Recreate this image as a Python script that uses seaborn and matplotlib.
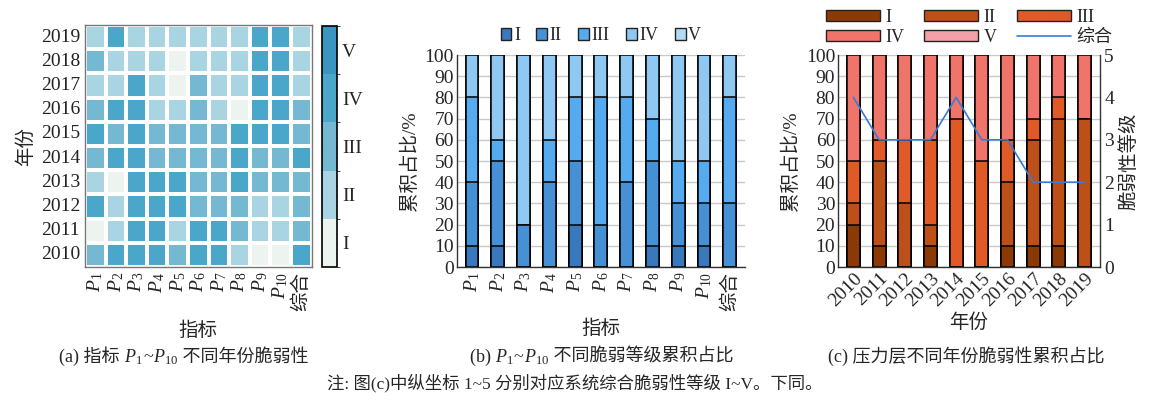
import numpy as np
import pandas as pd
import matplotlib
matplotlib.use('Agg')
import matplotlib.pyplot as plt
import seaborn as sns
from matplotlib.colors import ListedColormap, BoundaryNorm
from matplotlib.patches import Patch
from matplotlib.lines import Line2D

sns.set_style('white')
plt.rcParams['font.family'] = ['Liberation Serif', 'Noto Sans CJK SC']
plt.rcParams['mathtext.fontset'] = 'custom'
plt.rcParams['mathtext.rm'] = 'Liberation Serif'
plt.rcParams['mathtext.it'] = 'Liberation Serif:italic'

# ---- 数据 ----
years = [2010, 2011, 2012, 2013, 2014, 2015, 2016, 2017, 2018, 2019]
indicators = ['$P_{1}$', '$P_{2}$', '$P_{3}$', '$P_{4}$', '$P_{5}$', '$P_{6}$',
              '$P_{7}$', '$P_{8}$', '$P_{9}$', '$P_{10}$', '综合']
grades = ['I', 'II', 'III', 'IV', 'V']

# (a) 每年每个指标的脆弱性等级 (1~5)
grade_2010 = [3, 4, 4, 4, 3, 4, 4, 2, 1, 1, 4]
grade_2011 = [1, 2, 4, 4, 2, 4, 4, 3, 2, 2, 3]
grade_2012 = [4, 2, 4, 4, 4, 3, 3, 3, 2, 2, 3]
grade_2013 = [2, 1, 4, 4, 4, 3, 3, 4, 3, 3, 3]
grade_2014 = [3, 4, 4, 3, 3, 3, 3, 4, 3, 3, 4]
grade_2015 = [4, 3, 4, 3, 3, 3, 3, 4, 4, 4, 3]
grade_2016 = [3, 4, 4, 2, 2, 3, 2, 1, 4, 4, 3]
grade_2017 = [2, 2, 4, 2, 1, 3, 2, 2, 4, 4, 2]
grade_2018 = [3, 2, 2, 2, 1, 2, 2, 2, 4, 4, 2]
grade_2019 = [2, 4, 2, 2, 2, 2, 2, 2, 4, 4, 2]

# (b) 各指标不同等级占比 %
b_I   = [10, 10, 0, 0, 20, 0, 0, 10, 10, 10, 0]
b_II  = [30, 40, 20, 40, 30, 20, 40, 40, 20, 20, 30]
b_III = [40, 10, 0, 20, 30, 60, 40, 20, 20, 20, 50]
b_IV  = [20, 40, 80, 40, 20, 20, 20, 30, 50, 50, 20]
b_V   = [0, 0, 0, 0, 0, 0, 0, 0, 0, 0, 0]

# (c) 各年份不同等级占比 % 及综合等级
c_I   = [20, 10, 0, 10, 0, 0, 10, 10, 10, 0]
c_II  = [10, 40, 30, 10, 0, 0, 30, 50, 60, 70]
c_III = [20, 10, 30, 40, 70, 50, 20, 10, 10, 0]
c_IV  = [50, 40, 40, 40, 30, 50, 40, 30, 20, 30]
c_V   = [0, 0, 0, 0, 0, 0, 0, 0, 0, 0]
c_total = [4, 3, 3, 3, 4, 3, 3, 2, 2, 2]

heat_colors = ['#edf3ef', '#a8d5e1', '#74b9d1', '#4aa7ca', '#3a96c0']
blue_colors = ['#3a78bd', '#4691d6', '#55aaf0', '#8fc8f3', '#b0daf6']
red_colors = ['#8c3a05', '#bd5019', '#e05a28', '#ef756b', '#f3a0a6']

fig = plt.figure(figsize=(11.5, 4), dpi=100)

# ---- (a) 热力图 ----
ax1 = fig.add_axes([0.0739, 0.3325, 0.197, 0.605])
cax = fig.add_axes([0.280, 0.3325, 0.013, 0.6025])
grid = pd.DataFrame([grade_2019, grade_2018, grade_2017, grade_2016, grade_2015,
                     grade_2014, grade_2013, grade_2012, grade_2011, grade_2010],
                    index=years[::-1], columns=indicators)
cmap = ListedColormap(heat_colors)
norm = BoundaryNorm([0.5, 1.5, 2.5, 3.5, 4.5, 5.5], 5)
sns.heatmap(grid, ax=ax1, cbar_ax=cax, cmap=cmap, norm=norm,
            linewidths=1.5, linecolor='white', square=False)
for sp in ax1.spines.values():
    sp.set_visible(True)
    sp.set_color('#777777')
    sp.set_linewidth(1)
ax1.tick_params(axis='both', direction='in', length=4, width=1, labelsize=14,
                left=True, bottom=True, colors='#222222')
ax1.set_yticklabels([str(y) for y in years[::-1]], rotation=0, fontsize=14)
ax1.set_xticklabels(indicators, rotation=90, fontsize=14)
ax1.set_xlabel('指标', fontsize=14, labelpad=8)
ax1.set_ylabel('年份', fontsize=14, labelpad=4)
cb = ax1.collections[0].colorbar
cb.set_ticks([1, 2, 3, 4, 5])
cb.set_ticklabels(grades)
cb.ax.tick_params(labelsize=14, length=4, direction='in')
cb.outline.set_edgecolor('black')
cb.outline.set_linewidth(1.2)


def stacked(ax, cats, parts, colors):
    df = pd.DataFrame({'cat': cats})
    cum = np.cumsum(np.array(parts), axis=0)
    # 从上往下画累积柱
    for i in range(len(parts) - 1, -1, -1):
        df['v'] = cum[i]
        sns.barplot(data=df, x='cat', y='v', ax=ax, color=colors[i], width=0.5,
                    edgecolor='black', linewidth=1.1, saturation=1, order=cats)


# ---- (b) ----
ax2 = fig.add_axes([0.397, 0.3325, 0.251, 0.53])
stacked(ax2, indicators, [b_I, b_II, b_III, b_IV, b_V], blue_colors)
ax2.set_ylim(0, 100)
ax2.set_xlim(-0.6, len(indicators) - 0.4)
ax2.set_yticks(range(0, 101, 10))
ax2.yaxis.grid(True, color='#c8c8c8', linewidth=1)
ax2.set_axisbelow(True)
for s in ['top', 'right']:
    ax2.spines[s].set_visible(False)
for s in ['left', 'bottom']:
    ax2.spines[s].set_color('#333333')
    ax2.spines[s].set_linewidth(1)
ax2.tick_params(axis='y', labelsize=14, length=0, pad=2)
ax2.tick_params(axis='x', labelsize=14, length=0)
ax2.set_xticks(range(len(indicators)))
ax2.set_xticklabels(indicators, rotation=90)
ax2.set_xlabel('指标', fontsize=14, labelpad=6)
ax2.set_ylabel('累积占比/%', fontsize=14, labelpad=4)
h2 = [Patch(facecolor=c, edgecolor='#222222', linewidth=1) for c in blue_colors]
ax2.legend(h2, grades, ncol=5, loc='lower center', bbox_to_anchor=(0.5, 1.0),
           frameon=False, fontsize=13, handlelength=0.6, handleheight=0.6,
           handletextpad=0.15, columnspacing=0.9, borderaxespad=0.2)

# ---- (c) ----
ax3 = fig.add_axes([0.7287, 0.3325, 0.2278, 0.53])
ylabels = [str(y) for y in years]
stacked(ax3, ylabels, [c_I, c_II, c_III, c_IV, c_V], red_colors)
ax3.set_ylim(0, 100)
ax3.set_xlim(-0.6, len(years) - 0.4)
ax3.set_yticks(range(0, 101, 10))
ax3.yaxis.grid(True, color='#c8c8c8', linewidth=1)
ax3.set_axisbelow(True)
ax3.spines['top'].set_visible(False)
ax3.spines['right'].set_visible(False)
for s in ['left', 'bottom']:
    ax3.spines[s].set_color('#333333')
    ax3.spines[s].set_linewidth(1)
ax3.tick_params(axis='y', labelsize=14, length=0, pad=2)
ax3.tick_params(axis='x', labelsize=14, length=0, pad=2)
ax3.set_xticks(range(len(years)))
ax3.set_xticklabels(ylabels, rotation=45, ha='right', rotation_mode='anchor')
ax3.set_xlabel('年份', fontsize=14, labelpad=3)
ax3.set_ylabel('累积占比/%', fontsize=14, labelpad=4)

ax3r = ax3.twinx()
line_df = pd.DataFrame({'x': range(len(years)), 'y': c_total})
sns.lineplot(data=line_df, x='x', y='y', ax=ax3r, color='#3a7bd5', linewidth=1.2)
ax3r.set_ylim(0, 5)
ax3r.set_yticks(range(0, 6))
ax3r.tick_params(axis='y', labelsize=14, length=0, pad=3)
ax3r.set_ylabel('脆弱性等级', fontsize=14, labelpad=4)
ax3r.set_xlabel('')
for s in ['top', 'left', 'bottom']:
    ax3r.spines[s].set_visible(False)
ax3r.spines['right'].set_color('#333333')
ax3r.spines['right'].set_linewidth(1)
ax3r.set_xlim(-0.6, len(years) - 0.4)

h3 = [Patch(facecolor=c, edgecolor='#222222', linewidth=1) for c in red_colors]
h3.append(Line2D([0], [0], color='#3a7bd5', linewidth=1.2))
lab3 = grades + ['综合']
order = [0, 3, 1, 4, 2, 5]
ax3.legend([h3[i] for i in order], [lab3[i] for i in order], ncol=3,
           loc='lower center', bbox_to_anchor=(0.5, 1.0), frameon=False,
           fontsize=13, handlelength=3.0, handleheight=0.55,
           handletextpad=0.3, columnspacing=1.1, labelspacing=0.15,
           borderaxespad=0.1)


# ---- 图注 ----
def caption(cx, y, pieces, size=13):
    # 中文与公式分段写，逐段接在一起，整体居中
    renderer = fig.canvas.get_renderer()
    texts = [fig.text(0, y, p, fontsize=size, va='baseline') for p in pieces]
    widths = [t.get_window_extent(renderer).width for t in texts]
    x = cx * fig.bbox.width - sum(widths) / 2
    for t, w in zip(texts, widths):
        t.set_x(x / fig.bbox.width)
        x += w


caption(0.160, 0.095, ['(a) 指标 ', '$P_{1}$', '~', '$P_{10}$', ' 不同年份脆弱性'])
caption(0.523, 0.095, ['(b) ', '$P_{1}$', '~', '$P_{10}$', ' 不同脆弱等级累积占比'])
caption(0.840, 0.095, ['(c) 压力层不同年份脆弱性累积占比'])
fig.text(0.5, 0.03, '注: 图(c)中纵坐标 1~5 分别对应系统综合脆弱性等级 I~V。下同。',
         ha='center', va='baseline', fontsize=12.5)

fig.savefig('out.png', dpi=100)
